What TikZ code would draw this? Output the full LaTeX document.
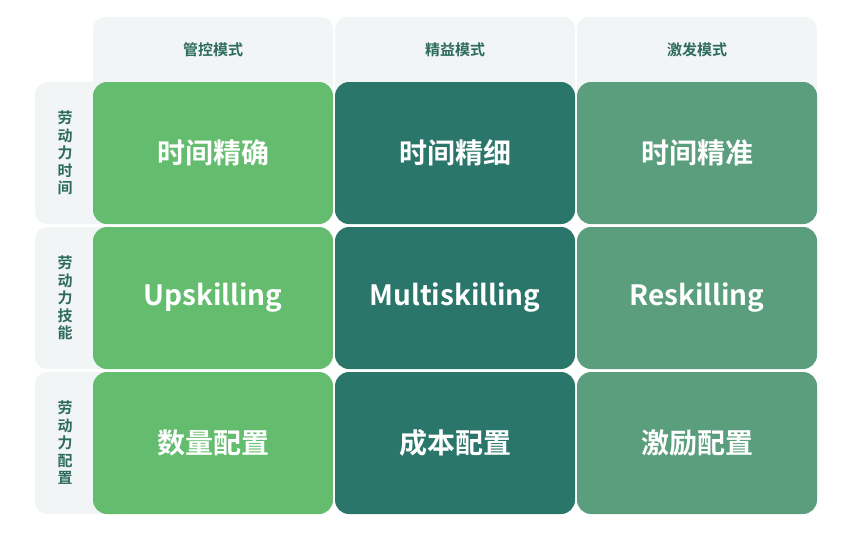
\documentclass[tikz,border=0pt]{standalone}
\usepackage{fontspec}
\setmainfont{Noto Sans CJK SC}[BoldFont={Noto Sans CJK SC Bold}]
\definecolor{lg}{HTML}{F2F5F5}
\definecolor{ca}{HTML}{64BD6F}
\definecolor{cb}{HTML}{2B766A}
\definecolor{cc}{HTML}{5A9E7E}
\definecolor{tx}{HTML}{2D6B5E}
\tikzset{
 hdr/.style={fill=lg,rounded corners=12pt},
 cell/.style={rounded corners=14pt},
 ctext/.style={text=white,font=\bfseries\fontsize{28}{30}\selectfont},
 htext/.style={text=tx,font=\bfseries\fontsize{15}{17}\selectfont},
 rtext/.style={text=tx,font=\bfseries\fontsize{15}{17.5}\selectfont,align=center}
}
\begin{document}
\begin{tikzpicture}[x=1pt,y=-1pt]
\useasboundingbox (0,0) rectangle (868,550);
% headers
\foreach \x/\t [count=\i] in {93/管控模式,335/精益模式,577/激发模式}{
 \fill[hdr] (\x,17) rectangle ++(240,100);
 \node[htext] (h\i) at (\x+120,50) {\t};
}
% row labels
\foreach \y/\t [count=\i] in {82/{劳\\动\\力\\时\\间},227/{劳\\动\\力\\技\\能},372/{劳\\动\\力\\配\\置}}{
 \fill[hdr] (35,\y) rectangle ++(100,142);
 \node[rtext] (r\i) at (65,\y+71) {\t};
}
% cells
\foreach \y/\a/\b/\c [count=\j] in {82/时间精确/时间精细/时间精准,227/Upskilling/Multiskilling/Reskilling,372/数量配置/成本配置/激励配置}{
 \fill[cell,ca] (93,\y) rectangle ++(240,142);
 \fill[cell,cb] (335,\y) rectangle ++(240,142);
 \fill[cell,cc] (577,\y) rectangle ++(240,142);
 \node[ctext] (a\j) at (213,\y+71) {\a};
 \node[ctext] (b\j) at (455,\y+71) {\b};
 \node[ctext] (c\j) at (697,\y+71) {\c};
}
\end{tikzpicture}
\end{document}
